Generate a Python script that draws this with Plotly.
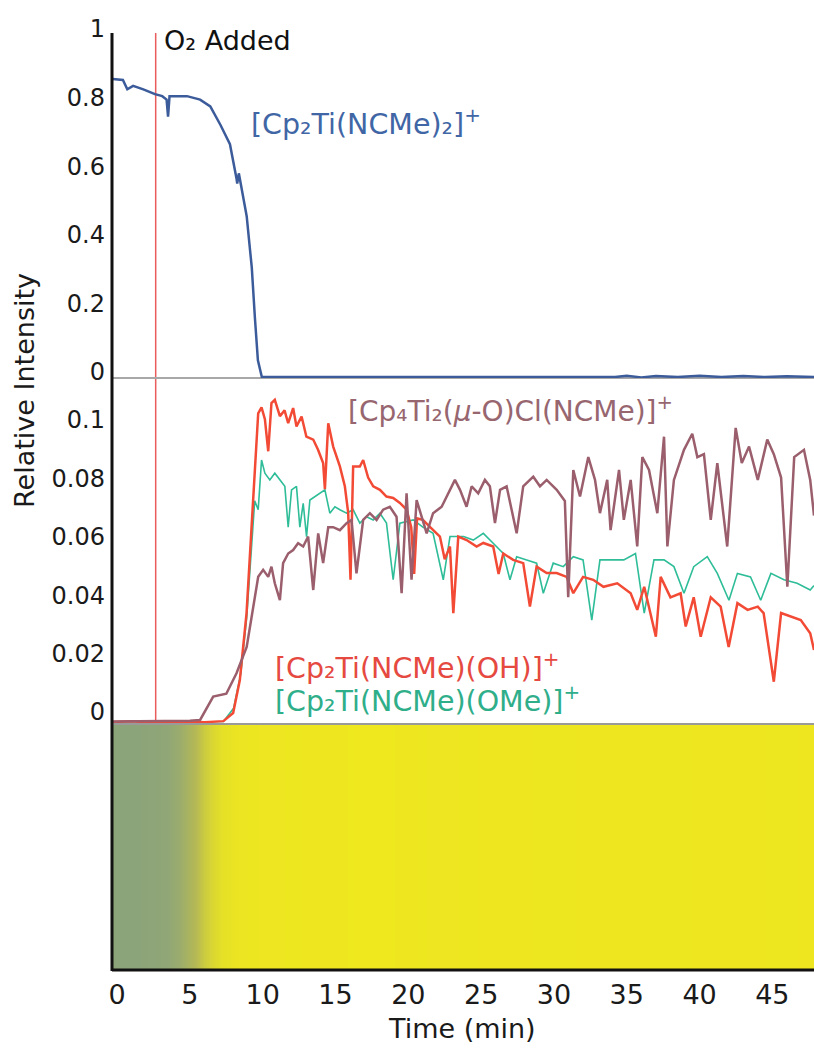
import plotly.graph_objects as go

# ---------------- data ----------------
o2_time = 2.65

blue_t = [-0.3, 0.4, 0.7, 1.1, 1.8, 2.6, 3.1, 3.4, 3.5, 3.6,
          4.8, 5.7, 6.4, 7.1, 7.75, 7.95, 8.2, 8.25, 8.36, 8.9,
          9.25, 9.46, 9.67, 9.94, 10.5, 11.0, 34.2, 35.0, 36.0, 37.0,
          38.5, 40.0, 41.5, 43.0, 44.5, 46.0, 47.9]
blue_v = [0.86, 0.857, 0.83, 0.84, 0.83, 0.816, 0.81, 0.80, 0.75, 0.81,
          0.81, 0.80, 0.78, 0.726, 0.67, 0.63, 0.57, 0.555, 0.585, 0.46,
          0.31, 0.166, 0.04, -0.009, -0.008, -0.009, -0.009, -0.005, -0.010, -0.006,
          -0.009, -0.005, -0.009, -0.006, -0.009, -0.007, -0.009]

red_t = [-0.3, 1.0, 2.0, 3.0, 4.0, 5.0, 6.0, 7.0, 7.3, 7.97,
         8.43, 8.89, 9.23, 9.46, 9.69, 9.92, 10.15, 10.38, 10.6, 10.83,
         11.18, 11.5, 11.75, 12.09, 12.32, 12.67, 13.0, 13.47, 13.8, 14.15,
         14.27, 14.5, 14.84, 15.3, 15.64, 15.87, 16.03, 16.21, 16.67, 16.9,
         17.24, 17.59, 18.05, 18.5, 18.96, 19.42, 19.88, 20.2, 20.4, 20.6,
         21.0, 21.5, 22.17, 22.5, 22.86, 23.09, 23.43, 24.0, 24.69, 25.15,
         25.83, 26.2, 26.52, 27.2, 27.89, 28.35, 28.81, 29.5, 30.19, 30.87,
         31.33, 32.0, 32.7, 33.4, 34.35, 35.27, 35.72, 36.2, 37.0, 37.33,
         38.0, 38.7, 39.05, 39.6, 40.08, 40.77, 41.45, 42.0, 42.6, 43.3,
         44.0, 44.4, 45.1, 45.6, 46.26, 46.95, 47.6, 47.86]
red_v = [-0.0007, -0.0004, -0.0008, -0.0005, -0.0007, -0.0005, -0.0008, -0.0006, -0.0004, 0.0024,
         0.0137, 0.0366, 0.065, 0.088, 0.105, 0.107, 0.103, 0.092, 0.1085, 0.1096,
         0.104, 0.106, 0.1016, 0.1068, 0.1005, 0.1039, 0.097, 0.096, 0.0925, 0.088,
         0.079, 0.1016, 0.0936, 0.0868, 0.080, 0.071, 0.048, 0.0868, 0.0868, 0.089,
         0.083, 0.080, 0.0788, 0.0765, 0.076, 0.0743, 0.072, 0.066, 0.050, 0.069,
         0.0685, 0.066, 0.0628, 0.055, 0.0594, 0.0366, 0.0628, 0.0616, 0.0594, 0.0606,
         0.0594, 0.050, 0.057, 0.0548, 0.0537, 0.0388, 0.0525, 0.0503, 0.0503, 0.049,
         0.0434, 0.049, 0.048, 0.0456, 0.0468, 0.0434, 0.0377, 0.0456, 0.0285, 0.049,
         0.042, 0.0434, 0.032, 0.042, 0.0285, 0.042, 0.0388, 0.025, 0.040, 0.0377,
         0.0388, 0.0366, 0.0131, 0.0366, 0.0354, 0.0342, 0.0297, 0.024]

teal_t = [-0.3, 2.0, 4.0, 6.0, 7.3, 8.0, 8.5, 8.9, 9.2, 9.45,
          9.69, 9.92, 10.15, 10.49, 10.83, 11.18, 11.52, 11.75, 11.98, 12.32,
          12.55, 12.78, 13.01, 13.24, 13.58, 13.93, 14.27, 14.61, 14.96, 15.3,
          15.76, 16.21, 16.67, 17.13, 17.59, 18.05, 18.5, 18.96, 19.42, 20.34,
          21.0, 21.7, 22.4, 22.86, 23.8, 24.46, 25.15, 25.83, 26.52, 26.98,
          27.44, 28.13, 28.81, 29.27, 29.95, 30.64, 31.33, 32.0, 32.6, 33.16,
          34.1, 34.8, 35.6, 36.2, 36.87, 37.56, 38.24, 38.93, 39.6, 40.53,
          41.22, 42.02, 42.6, 43.5, 44.2, 44.9, 45.8, 46.7, 47.6, 47.86]
teal_v = [-0.0006, -0.0006, -0.0006, -0.0006, -0.0005, 0.004, 0.016, 0.035, 0.055, 0.075,
          0.072, 0.089, 0.0845, 0.0822, 0.0845, 0.0822, 0.080, 0.066, 0.0788, 0.080,
          0.066, 0.0742, 0.0628, 0.0753, 0.0765, 0.0776, 0.0788, 0.0708, 0.073, 0.072,
          0.0708, 0.072, 0.0674, 0.0696, 0.0685, 0.0708, 0.0674, 0.048, 0.0674, 0.0685,
          0.066, 0.0639, 0.048, 0.0628, 0.0628, 0.0616, 0.0639, 0.0605, 0.057, 0.048,
          0.0559, 0.0548, 0.0537, 0.0434, 0.0537, 0.0525, 0.0559, 0.0548, 0.0342, 0.0548,
          0.0548, 0.0548, 0.057, 0.0366, 0.0548, 0.0548, 0.0525, 0.0434, 0.0525, 0.0559,
          0.0502, 0.041, 0.0502, 0.049, 0.041, 0.0502, 0.048, 0.0468, 0.0445, 0.046]

mauve_t = [-0.3, 2.0, 4.0, 5.0, 5.7, 6.6, 7.5, 8.2, 8.9, 9.34,
           9.69, 10.03, 10.38, 10.6, 10.83, 11.18, 11.4, 11.75, 12.09, 12.43,
           12.78, 13.12, 13.47, 13.81, 14.15, 14.5, 14.84, 15.3, 15.76, 16.1,
           16.44, 16.9, 17.36, 17.82, 18.27, 18.73, 19.19, 19.54, 19.88, 20.22,
           20.57, 21.26, 21.7, 22.29, 22.86, 23.2, 23.55, 24.0, 24.35, 24.8,
           25.26, 25.6, 25.95, 26.3, 26.75, 27.44, 27.89, 28.58, 29.04, 29.5,
           30.19, 30.75, 30.98, 31.33, 31.79, 32.36, 32.82, 33.16, 33.66, 33.89,
           34.47, 34.8, 35.27, 35.72, 36.07, 36.53, 37.1, 37.56, 37.79, 38.24,
           38.93, 39.5, 39.85, 40.3, 40.77, 41.22, 41.9, 42.48, 42.9, 43.4,
           44.0, 44.65, 45.1, 45.6, 46.03, 46.5, 47.17, 47.6, 47.86]
mauve_v = [-0.0005, -0.0005, -0.0005, -0.0003, 0.0, 0.008, 0.009, 0.016, 0.025, 0.039,
           0.049, 0.0514, 0.049, 0.0525, 0.0468, 0.041, 0.0537, 0.057, 0.0582, 0.0605,
           0.0594, 0.0628, 0.0445, 0.0639, 0.0537, 0.066, 0.066, 0.065, 0.0674, 0.0685,
           0.0502, 0.0685, 0.0708, 0.0685, 0.072, 0.073, 0.0696, 0.0434, 0.0776, 0.048,
           0.0753, 0.0639, 0.0708, 0.073, 0.0788, 0.0822, 0.0788, 0.073, 0.080, 0.0776,
           0.0822, 0.080, 0.0674, 0.0788, 0.080, 0.0639, 0.080, 0.0833, 0.080, 0.0822,
           0.0788, 0.075, 0.042, 0.0856, 0.0765, 0.090, 0.0822, 0.0708, 0.0822, 0.065,
           0.0856, 0.0685, 0.0822, 0.0594, 0.090, 0.0856, 0.0708, 0.097, 0.0594, 0.0822,
           0.0925, 0.098, 0.090, 0.091, 0.0685, 0.0879, 0.0594, 0.100, 0.088, 0.0936,
           0.0822, 0.096, 0.091, 0.083, 0.0456, 0.090, 0.0925, 0.0822, 0.070]

# solution colour strip: 0 = grey-green, 1 = yellow
strip_t = [-0.6, 1.0, 2.0, 2.7, 3.5, 4.2, 4.8, 5.4, 6.0, 6.6,
           7.3, 8.5, 10.0, 14.0, 18.0, 22.0, 26.0, 30.0, 34.0, 38.0,
           42.0, 46.0, 48.2]
strip_v = [0.0, 0.0, 0.01, 0.02, 0.06, 0.16, 0.32, 0.5, 0.68, 0.82,
           0.92, 0.97, 0.98, 0.99, 1.0, 0.98, 0.99, 0.985, 0.99, 0.985,
           0.99, 0.985, 0.99]

x_ticks = [0, 5, 10, 15, 20, 25, 30, 35, 40, 45]
x_labels = ["0", "5", "10", "15", "20", "25", "30", "35", "40", "45"]
top_ticks = [0, 0.2, 0.4, 0.6, 0.8, 1.0]
top_labels = ["0", "0.2", "0.4", "0.6", "0.8", "1"]
mid_ticks = [0, 0.02, 0.04, 0.06, 0.08, 0.1]
mid_labels = ["0", "0.02", "0.04", "0.06", "0.08", "0.1"]

# ---------------- figure ----------------
FONT = "DejaVu Sans"
BLUE = "#3b5b9a"
RED = "#f24a35"
TEAL = "#2ebd98"
MAUVE = "#9a5e6c"

fig = go.Figure()

fig.add_trace(go.Heatmap(
    x=strip_t, y=[0, 1], z=[strip_v, strip_v], zsmooth="best",
    zmin=0, zmax=1, showscale=False, hoverinfo="skip",
    colorscale=[[0, "rgb(140,164,122)"], [0.5, "rgb(182,186,84)"], [1, "rgb(239,232,30)"]],
    xaxis="x", yaxis="y3"))

fig.add_trace(go.Scatter(x=blue_t, y=blue_v, mode="lines",
                         line=dict(color=BLUE, width=2.5), xaxis="x", yaxis="y"))
fig.add_trace(go.Scatter(x=teal_t, y=teal_v, mode="lines",
                         line=dict(color=TEAL, width=1.6), xaxis="x", yaxis="y2"))
fig.add_trace(go.Scatter(x=red_t, y=red_v, mode="lines",
                         line=dict(color=RED, width=2.5), xaxis="x", yaxis="y2"))
fig.add_trace(go.Scatter(x=mauve_t, y=mauve_v, mode="lines",
                         line=dict(color=MAUVE, width=2.5), xaxis="x", yaxis="y2"))

H_TOP = 0.6305
H_MID = 0.262

fig.update_layout(
    width=814, height=1051,
    margin=dict(l=112, r=0, t=31, b=81),
    paper_bgcolor="white", plot_bgcolor="white",
    showlegend=False,
    font=dict(family=FONT, color="#1a1a1a"),
    xaxis=dict(domain=[0, 1], range=[-0.35, 47.86], anchor="y3",
               tickvals=x_ticks, ticktext=x_labels, ticks="",
               showgrid=False, zeroline=False, showline=False,
               tickfont=dict(size=27, family=FONT, color="#1a1a1a"),
               ticklabelstandoff=6),
    yaxis=dict(domain=[H_TOP, 1], range=[-0.0117, 1.0], anchor="x",
               tickvals=top_ticks, ticktext=top_labels, ticks="",
               showgrid=False, zeroline=False, showline=False,
               tickfont=dict(size=24, family=FONT, color="#1a1a1a"),
               ticklabelstandoff=6, ticklabelshift=-2),
    yaxis2=dict(domain=[H_MID, H_TOP], range=[-0.00137, 0.1171], anchor="x",
                tickvals=mid_ticks, ticktext=mid_labels, ticks="",
                showgrid=False, zeroline=False, showline=False,
                tickfont=dict(size=24, family=FONT, color="#1a1a1a"),
                ticklabelstandoff=6, ticklabelshift=-8),
    yaxis3=dict(domain=[0, H_MID], range=[0, 1], anchor="x",
                showticklabels=False, ticks="", showgrid=False,
                zeroline=False, showline=False),
)

shapes = [
    dict(type="line", xref="x", yref="paper", x0=o2_time, x1=o2_time,
         y0=H_MID, y1=0.9979, line=dict(color="rgb(232,92,92)", width=1.5), layer="below"),
    dict(type="line", xref="paper", yref="paper", x0=0, x1=1, y0=H_TOP, y1=H_TOP,
         line=dict(color="#a8a8a8", width=2), layer="below"),
    dict(type="line", xref="paper", yref="paper", x0=0, x1=1, y0=H_MID, y1=H_MID,
         line=dict(color="#9a9a9a", width=2), layer="above"),
    dict(type="line", xref="paper", yref="paper", x0=0, x1=0, y0=-0.001, y1=0.9979,
         line=dict(color="#111111", width=3), layer="above"),
    dict(type="line", xref="paper", yref="paper", x0=0, x1=1, y0=0, y1=0,
         line=dict(color="#111111", width=3), layer="above"),
]
fig.update_layout(shapes=shapes)

ann = [
    dict(text="O₂ Added", xref="x", yref="paper", x=o2_time, xshift=6, y=0.9904,
         xanchor="left", yanchor="middle", showarrow=False,
         font=dict(size=27, color="#111111", family=FONT)),
    dict(text="[Cp₂Ti(NCMe)₂]<sup>+</sup>", xref="x", yref="paper", x=9.05, y=0.903,
         xanchor="left", yanchor="middle", showarrow=False,
         font=dict(size=28.5, color="#4166a6", family=FONT)),
    dict(text="[Cp₄Ti₂(<i>μ</i>-O)Cl(NCMe)]<sup>+</sup>", xref="x", yref="paper", x=15.75, y=0.597,
         xanchor="left", yanchor="middle", showarrow=False,
         font=dict(size=28, color="#97666f", family=FONT)),
    dict(text="[Cp₂Ti(NCMe)(OH)]<sup>+</sup>", xref="x", yref="paper", x=10.7, y=0.324,
         xanchor="left", yanchor="middle", showarrow=False,
         font=dict(size=28.5, color="#e5493f", family=FONT)),
    dict(text="[Cp₂Ti(NCMe)(OMe)]<sup>+</sup>", xref="x", yref="paper", x=10.7, y=0.289,
         xanchor="left", yanchor="middle", showarrow=False,
         font=dict(size=28.5, color="#2fae8a", family=FONT)),
    dict(text="Relative Intensity", xref="paper", yref="paper", x=-0.124, y=0.6177,
         xanchor="center", yanchor="middle", textangle=-90, showarrow=False,
         font=dict(size=27, color="#1a1a1a", family=FONT)),
    dict(text="Time (min)", xref="paper", yref="paper", x=0.4986, y=-0.0628,
         xanchor="center", yanchor="middle", showarrow=False,
         font=dict(size=27, color="#1a1a1a", family=FONT)),
]
fig.update_layout(annotations=ann)

fig.write_html("out.html", config={"displayModeBar": False},
               post_script="document.body.style.margin='0px';document.body.style.overflow='hidden';")
